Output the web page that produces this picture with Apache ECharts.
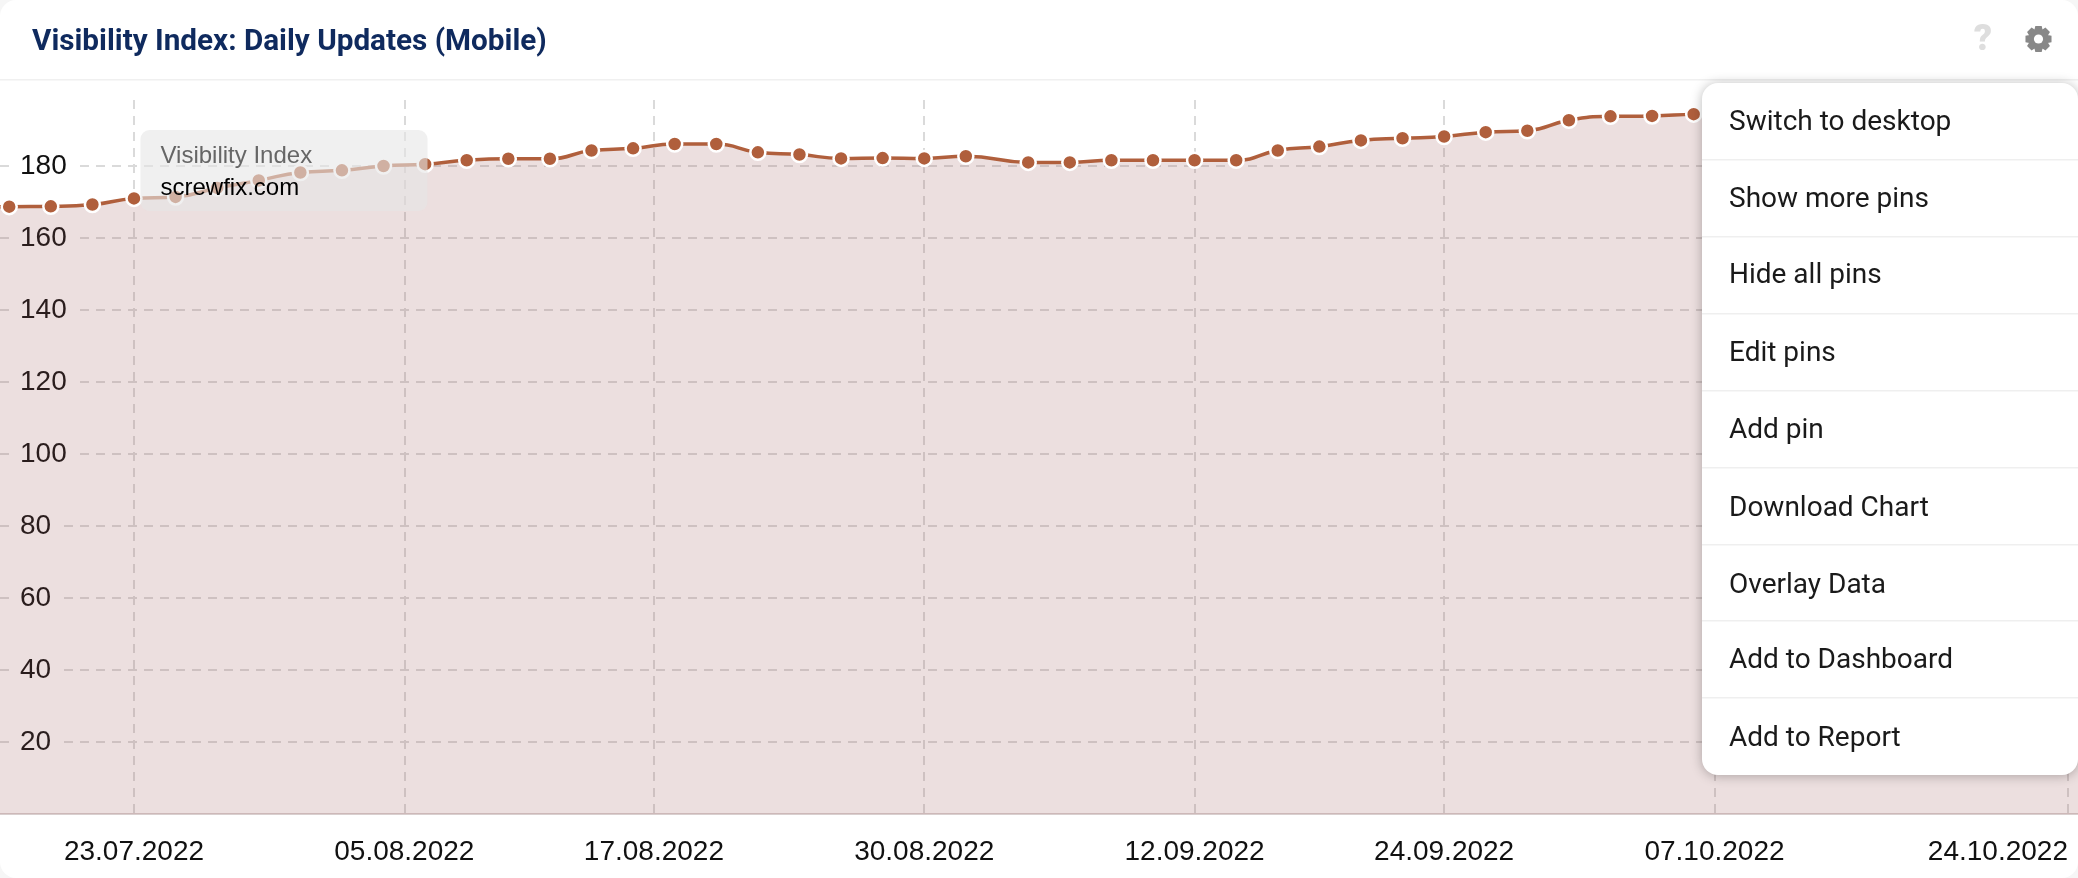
<!DOCTYPE html>
<html><head><meta charset="utf-8">
<style>html,body{margin:0;padding:0;background:#fff}#c{width:2078px;height:878px}</style>
<script src="https://cdn.jsdelivr.net/npm/echarts@6/dist/echarts.min.js"></script>
</head><body><div id="c"></div>
<script>
const titleText = 'Visibility Index: Daily Updates (Mobile)';
const seriesName = 'Visibility Index';
const domainName = 'screwfix.com';
const dates = ['2022-07-15','2022-07-17','2022-07-19','2022-07-21','2022-07-23','2022-07-25','2022-07-27','2022-07-29','2022-07-31',
 '2022-08-02','2022-08-04','2022-08-06','2022-08-08','2022-08-10','2022-08-12','2022-08-14','2022-08-16','2022-08-18','2022-08-20',
 '2022-08-22','2022-08-24','2022-08-26','2022-08-28','2022-08-30','2022-09-01','2022-09-04','2022-09-06','2022-09-08','2022-09-10',
 '2022-09-12','2022-09-14','2022-09-16','2022-09-18','2022-09-20','2022-09-22','2022-09-24','2022-09-26','2022-09-28','2022-09-30',
 '2022-10-02','2022-10-04','2022-10-06','2022-10-08','2022-10-10','2022-10-12','2022-10-14','2022-10-16','2022-10-18','2022-10-20','2022-10-22','2022-10-24','2022-10-26'];
const visibility = [168.4,168.7,168.8,169.3,171.0,171.4,173.9,176.0,178.2,
 178.8,180.0,180.5,181.6,182.0,182.0,184.3,184.9,186.1,186.1,
 183.8,183.2,182.1,182.2,182.1,182.7,181.0,181.0,181.6,181.6,
 181.6,181.6,184.3,185.4,187.1,187.7,188.2,189.4,189.8,192.7,
 193.8,193.9,194.4,194.6,194.8,195.0,195.0,195.2,195.2,195.4,195.4,195.5,195.5];
const tickDates = ['2022-07-23','2022-08-05','2022-08-17','2022-08-30','2022-09-12','2022-09-24','2022-10-07','2022-10-24'];
const menuItems = ['Switch to desktop','Show more pins','Hide all pins','Edit pins','Add pin','Download Chart','Overlay Data','Add to Dashboard','Add to Report'];
const menuCentres = [123,200,275.5,353.5,430.5,508.5,585.5,661,739];
const menuRules = [160,237,314,391,468,545,621,698];

const DAY = 86400000;
const ts = s => Date.parse(s + 'T00:00:00Z');
const pad = n => String(n).padStart(2,'0');
const lineColor = '#b05f3c';
const gridColor = '#dadada';

// gear icon outline
const gearPts = [];
for (let i = 0; i < 8; i++) {
  const a = i * Math.PI / 4 - Math.PI / 2;
  [[-0.42,10],[-0.24,13.4],[0.24,13.4],[0.42,10]].forEach(([o,r]) => {
    gearPts.push([2038.5 + r*Math.cos(a+o), 39 + r*Math.sin(a+o)]);
  });
}

const menuGraphics = [
  {type:'rect', z:50, shape:{x:1702,y:83,width:376,height:692,r:16},
   style:{fill:'#fff',shadowBlur:12,shadowColor:'rgba(0,0,0,0.28)',shadowOffsetY:1}},
  ...menuRules.map(y=>({type:'rect',z:51,shape:{x:1702,y:y-1,width:376,height:1.5},style:{fill:'#efefef'}})),
  ...menuItems.map((t,i)=>({type:'text',z:52,x:1729,y:menuCentres[i],
     style:{text:t,fill:'#1a1a1a',font:'400 28px Roboto',verticalAlign:'middle',align:'left'}}))
];

const chart = echarts.init(document.getElementById('c'), null, {renderer:'canvas'});
chart.setOption({
  animation:false,
  backgroundColor:'#f6f6f6',
  title:{text:titleText,left:27,top:22.5,textStyle:{fontFamily:'Roboto',fontWeight:700,fontSize:29.7,color:'#0f2a5e'}},
  grid:{left:0,right:0,top:100,height:714,containLabel:false},
  tooltip:{show:false},
  xAxis:{
    type:'value',
    min:ts('2022-07-23')-6.443*DAY,
    max:ts('2022-10-24')+0.481*DAY,
    axisLine:{show:true,onZero:false,lineStyle:{color:'#d9cfcf',width:2}},
    axisTick:{show:false,customValues:tickDates.map(ts)},
    axisLabel:{customValues:tickDates.map(ts),alignMaxLabel:'right',hideOverlap:false,margin:24,
      showMinLabel:true,showMaxLabel:true,
      fontFamily:'Liberation Sans',fontSize:28,color:'#111',
      formatter:v=>{const d=new Date(v);return pad(d.getUTCDate())+'.'+pad(d.getUTCMonth()+1)+'.'+d.getUTCFullYear();}},
    splitLine:{show:true,lineStyle:{color:gridColor,width:2,type:[9,7]}}
  },
  yAxis:{
    type:'value',min:0,max:198.33,interval:20,
    axisLine:{show:false},axisTick:{show:false},
    axisLabel:{inside:true,showMinLabel:false,showMaxLabel:false,margin:16,padding:[0,7,0,4],backgroundColor:'#fff',
      fontFamily:'Liberation Sans',fontSize:28,color:'#111',align:'left'},
    splitLine:{show:true,showMaxLine:false,showMinLine:false,lineStyle:{color:gridColor,width:2,type:[9,7]}}
  },
  series:[{
    type:'line',name:seriesName,
    data:dates.map((d,i)=>[ts(d),visibility[i]]),
    smooth:0.5,
    lineStyle:{color:lineColor,width:3.5},
    itemStyle:{color:lineColor,borderColor:'#fff',borderWidth:2.5},
    symbol:'circle',symbolSize:15,showSymbol:true,showAllSymbol:true,
    areaStyle:{color:'rgba(155,85,85,0.19)',opacity:1},
    z:2
  }],
  graphic:[
    {type:'rect',z:-10,shape:{x:0,y:0,width:2078,height:878,r:16},style:{fill:'#fff'}},
    {type:'rect',z:5,shape:{x:0,y:79,width:2078,height:1.5},style:{fill:'#f0f0f0'}},
    {type:'rect',z:20,shape:{x:140.5,y:130,width:287,height:81,r:9},style:{fill:'rgba(230,230,230,0.6)'}},
    {type:'text',z:21,x:160.5,y:156.5,style:{text:seriesName,fill:'#666',font:'24px "Liberation Sans"',verticalAlign:'middle'}},
    {type:'text',z:21,x:160.5,y:188,style:{text:domainName,fill:'#000',font:'24px "Liberation Sans"',verticalAlign:'middle'}},
    {type:'text',z:21,x:1983,y:41,style:{text:'?',fill:'#dedede',font:'900 36px Roboto',align:'center',verticalAlign:'middle'}},
    {type:'polygon',z:21,shape:{points:gearPts},style:{fill:'#888'}},
    {type:'circle',z:22,shape:{cx:2038.5,cy:39,r:4.6},style:{fill:'#fff'}},
    ...menuGraphics
  ]
});
</script></body></html>
